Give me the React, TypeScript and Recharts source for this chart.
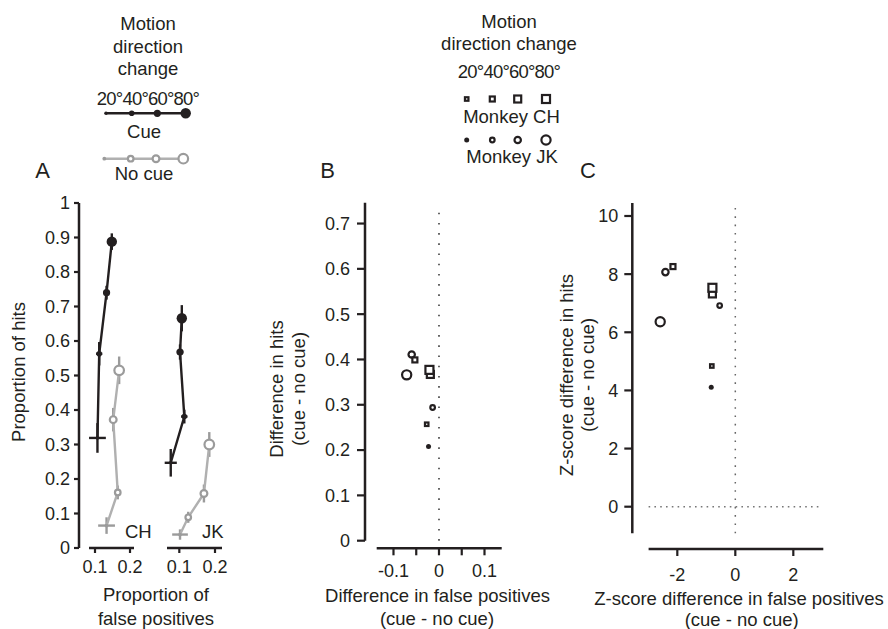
import { ErrorBar, ReferenceLine, Scatter, ScatterChart, XAxis, YAxis } from 'recharts';

const FONT = '"Liberation Sans", Arial, Helvetica, sans-serif';
const INK = '#231f20';
const GREY_LINE = '#b0b0b0';
const GREY_MARK = '#9b9b9b';
const AXIS_W = 2.5;

// motion direction change, degrees
const directions = [20, 40, 60, 80];
const directionText = '20°40°60°80°';

// A: proportion of false positives (x) and hits (y), with error bars
const chCueFalsePos = [0.107, 0.112, 0.133, 0.148];
const chCueHits = [0.319, 0.563, 0.74, 0.888];
const chCueFalsePosErr = [0.024, 0.009, 0.009, 0.01];
const chCueHitsErr = [0.043, 0.034, 0.02, 0.024];
const chNoCueFalsePos = [0.133, 0.165, 0.152, 0.169];
const chNoCueHits = [0.065, 0.161, 0.372, 0.515];
const chNoCueFalsePosErr = [0.024, 0.009, 0.009, 0.011];
const chNoCueHitsErr = [0.024, 0.02, 0.034, 0.04];

const jkCueFalsePos = [0.076, 0.114, 0.102, 0.107];
const jkCueHits = [0.247, 0.381, 0.568, 0.666];
const jkCueFalsePosErr = [0.017, 0.009, 0.009, 0.01];
const jkCueHitsErr = [0.04, 0.02, 0.022, 0.038];
const jkNoCueFalsePos = [0.102, 0.125, 0.169, 0.184];
const jkNoCueHits = [0.039, 0.089, 0.158, 0.3];
const jkNoCueFalsePosErr = [0.022, 0.009, 0.009, 0.011];
const jkNoCueHitsErr = [0.015, 0.016, 0.026, 0.036];

// B: difference (cue - no cue)
const chDiffFalsePos = [-0.027, -0.053, -0.019, -0.021];
const chDiffHits = [0.257, 0.399, 0.367, 0.377];
const jkDiffFalsePos = [-0.023, -0.014, -0.06, -0.071];
const jkDiffHits = [0.208, 0.294, 0.411, 0.366];

// C: z-score difference (cue - no cue)
const chZFalsePos = [-0.81, -2.15, -0.79, -0.79];
const chZHits = [4.84, 8.26, 7.32, 7.53];
const jkZFalsePos = [-0.83, -0.54, -2.41, -2.59];
const jkZHits = [4.11, 6.92, 8.07, 6.36];

// ticks
const aYTicks = [0, 0.1, 0.2, 0.3, 0.4, 0.5, 0.6, 0.7, 0.8, 0.9, 1];
const aXTicks = [0.1, 0.2];
const bYTicks = [0, 0.1, 0.2, 0.3, 0.4, 0.5, 0.6, 0.7];
const bXTicks = [-0.1, -0.05, 0, 0.05, 0.1];
const bXLabels = [-0.1, 0, 0.1];
const cYTicks = [0, 2, 4, 6, 8, 10];
const cXTicks = [-2, 0, 2];

type Pt = { deg: number; x: number; y: number; ex: number; ey: number };

const rows = (xs: number[], ys: number[], exs?: number[], eys?: number[]): Pt[] =>
  directions.map((deg, i) => ({ deg, x: xs[i], y: ys[i], ex: exs ? exs[i] : 0, ey: eys ? eys[i] : 0 }));

const chCue = rows(chCueFalsePos, chCueHits, chCueFalsePosErr, chCueHitsErr);
const chNoCue = rows(chNoCueFalsePos, chNoCueHits, chNoCueFalsePosErr, chNoCueHitsErr);
const jkCue = rows(jkCueFalsePos, jkCueHits, jkCueFalsePosErr, jkCueHitsErr);
const jkNoCue = rows(jkNoCueFalsePos, jkNoCueHits, jkNoCueFalsePosErr, jkNoCueHitsErr);
const chDiff = rows(chDiffFalsePos, chDiffHits);
const jkDiff = rows(jkDiffFalsePos, jkDiffHits);
const chZ = rows(chZFalsePos, chZHits);
const jkZ = rows(jkZFalsePos, jkZHits);

// layout
const W = 888;
const H = 629;
const XAXIS_H = 40;

type Frame = { left: number; right: number; top: number; bottom: number };
const margins = (f: Frame, yw: number) => ({
  top: f.top,
  right: W - f.right,
  bottom: H - f.bottom - XAXIS_H,
  left: f.left - yw,
});

const frameACh: Frame = { left: 79, right: 134, top: 203, bottom: 548 };
const frameAJk: Frame = { left: 167, right: 222, top: 203, bottom: 548 };
const frameB: Frame = { left: 365, right: 501.7, top: 202.7, bottom: 548.3 };
const frameC: Frame = { left: 632.3, right: 823.3, top: 203, bottom: 549 };

const aChX: [number, number] = [0.0543, 0.2114];
const aJkX: [number, number] = [0.0655, 0.2196];
const aY: [number, number] = [0, 1];
const bX: [number, number] = [-0.1626, 0.1378];
const bY: [number, number] = [-0.0168, 0.746];
const cX: [number, number] = [-3.552, 3.034];
const cY: [number, number] = [-1.455, 10.447];

// marker sizes by direction
const cueR: Record<number, number> = { 20: 1.8, 40: 2.8, 60: 3.6, 80: 5.2 };
const noCueR: Record<number, number> = { 20: 1.9, 40: 2.8, 60: 3.4, 80: 4.8 };
const squareSide: Record<number, number> = { 20: 3.5, 40: 5, 60: 7, 80: 8 };
const ringR: Record<number, number> = { 20: 2.5, 40: 2.3, 60: 3.2, 80: 4.6 };

const CueDot = (p: any) => <circle cx={p.cx} cy={p.cy} r={cueR[p.payload.deg]} fill={INK} />;
const NoCueDot = (p: any) =>
  p.payload.deg === 20 ? (
    <circle cx={p.cx} cy={p.cy} r={noCueR[20]} fill={GREY_MARK} />
  ) : (
    <circle cx={p.cx} cy={p.cy} r={noCueR[p.payload.deg]} fill="#fff" stroke={GREY_MARK} strokeWidth={2.2} />
  );
const ChSquare = (p: any) => {
  const s = squareSide[p.payload.deg];
  return <rect x={p.cx - s / 2} y={p.cy - s / 2} width={s} height={s} fill="#fff" stroke={INK} strokeWidth={2.2} />;
};
const JkRing = (p: any) =>
  p.payload.deg === 20 ? (
    <circle cx={p.cx} cy={p.cy} r={ringR[20]} fill={INK} />
  ) : (
    <circle cx={p.cx} cy={p.cy} r={ringR[p.payload.deg]} fill="#fff" stroke={INK} strokeWidth={2.2} />
  );

const tickStyle = { fill: INK, fontSize: 18, fontFamily: FONT };
const tickLine = { stroke: INK, strokeWidth: 2.2 };
const abs = { position: 'absolute' as const, left: 0, top: 0 };

function Errors({ color }: { color: string }) {
  return (
    <>
      <ErrorBar dataKey="ey" direction="y" width={0} stroke={color} strokeWidth={2.4} isAnimationActive={false} />
      <ErrorBar dataKey="ex" direction="x" width={0} stroke={color} strokeWidth={2.4} isAnimationActive={false} />
    </>
  );
}

function PanelA() {
  return (
    <>
      <div style={abs}>
        <ScatterChart width={W} height={H} margin={margins(frameACh, frameACh.left)}>
          <XAxis type="number" dataKey="x" domain={aChX} allowDataOverflow ticks={aXTicks} interval={0}
            axisLine={false} tickLine={tickLine} tick={tickStyle} tickSize={5} tickMargin={7} height={XAXIS_H} />
          <YAxis type="number" dataKey="y" domain={aY} allowDataOverflow ticks={aYTicks} interval={0}
            axisLine={false} tickLine={tickLine} tick={tickStyle} tickSize={5} tickMargin={4} width={frameACh.left} />
          <ReferenceLine segment={[{ x: aChX[0], y: 0 }, { x: aChX[0], y: 1 }]} stroke={INK} strokeWidth={AXIS_W} ifOverflow="visible" />
          <ReferenceLine segment={[{ x: 0.0829, y: 0 }, { x: aChX[1], y: 0 }]} stroke={INK} strokeWidth={AXIS_W} ifOverflow="visible" />
          <Scatter data={chNoCue} shape={NoCueDot} line={{ stroke: GREY_LINE, strokeWidth: 2.4 }} isAnimationActive={false}>
            <Errors color={GREY_MARK} />
          </Scatter>
          <Scatter data={chCue} shape={CueDot} line={{ stroke: INK, strokeWidth: 2.4 }} isAnimationActive={false}>
            <Errors color={INK} />
          </Scatter>
        </ScatterChart>
      </div>
      <div style={abs}>
        <ScatterChart width={W} height={H} margin={margins(frameAJk, 0)}>
          <XAxis type="number" dataKey="x" domain={aJkX} allowDataOverflow ticks={aXTicks} interval={0}
            axisLine={{ stroke: INK, strokeWidth: AXIS_W }} tickLine={tickLine} tick={tickStyle} tickSize={5} tickMargin={7} height={XAXIS_H} />
          <YAxis type="number" dataKey="y" domain={aY} allowDataOverflow hide />
          <Scatter data={jkNoCue} shape={NoCueDot} line={{ stroke: GREY_LINE, strokeWidth: 2.4 }} isAnimationActive={false}>
            <Errors color={GREY_MARK} />
          </Scatter>
          <Scatter data={jkCue} shape={CueDot} line={{ stroke: INK, strokeWidth: 2.4 }} isAnimationActive={false}>
            <Errors color={INK} />
          </Scatter>
        </ScatterChart>
      </div>
    </>
  );
}

function PanelB() {
  return (
    <div style={abs}>
      <ScatterChart width={W} height={H} margin={margins(frameB, frameB.left)}>
        <XAxis type="number" dataKey="x" domain={bX} allowDataOverflow ticks={bXTicks} interval={0}
          tickFormatter={(v: number) => (bXLabels.includes(v) ? String(v) : '')}
          axisLine={false} tickLine={tickLine} tick={tickStyle} tickSize={7} tickMargin={9} height={XAXIS_H} />
        <YAxis type="number" dataKey="y" domain={bY} allowDataOverflow ticks={bYTicks} interval={0}
          axisLine={false} tickLine={tickLine} tick={tickStyle} tickSize={8} tickMargin={7} width={frameB.left} />
        <ReferenceLine segment={[{ x: bX[0], y: 0 }, { x: bX[0], y: bY[1] }]} stroke={INK} strokeWidth={AXIS_W} ifOverflow="visible" />
        <ReferenceLine segment={[{ x: -0.1369, y: bY[0] }, { x: bX[1], y: bY[0] }]} stroke={INK} strokeWidth={AXIS_W} ifOverflow="visible" />
        <ReferenceLine segment={[{ x: 0, y: 0 }, { x: 0, y: 0.735 }]} stroke="#333" strokeWidth={1.5} strokeDasharray="1.6 8.6" ifOverflow="visible" />
        <Scatter data={jkDiff} shape={JkRing} isAnimationActive={false} />
        <Scatter data={chDiff} shape={ChSquare} isAnimationActive={false} />
      </ScatterChart>
    </div>
  );
}

function PanelC() {
  return (
    <div style={abs}>
      <ScatterChart width={W} height={H} margin={margins(frameC, frameC.left)}>
        <XAxis type="number" dataKey="x" domain={cX} allowDataOverflow ticks={cXTicks} interval={0}
          axisLine={false} tickLine={tickLine} tick={tickStyle} tickSize={7} tickMargin={12} height={XAXIS_H} />
        <YAxis type="number" dataKey="y" domain={cY} allowDataOverflow ticks={cYTicks} interval={0}
          axisLine={false} tickLine={tickLine} tick={tickStyle} tickSize={8} tickMargin={6} width={frameC.left} />
        <ReferenceLine segment={[{ x: cX[0], y: -0.915 }, { x: cX[0], y: cY[1] }]} stroke={INK} strokeWidth={AXIS_W} ifOverflow="visible" />
        <ReferenceLine segment={[{ x: -2.99, y: cY[0] }, { x: cX[1], y: cY[0] }]} stroke={INK} strokeWidth={AXIS_W} ifOverflow="visible" />
        <ReferenceLine segment={[{ x: 0, y: -0.915 }, { x: 0, y: cY[1] }]} stroke="#666" strokeWidth={1.5} strokeDasharray="1.6 6.7" ifOverflow="visible" />
        <ReferenceLine segment={[{ x: -2.99, y: 0 }, { x: 2.9, y: 0 }]} stroke="#777" strokeWidth={1.5} strokeDasharray="1.6 4.2" ifOverflow="visible" />
        <Scatter data={jkZ} shape={JkRing} isAnimationActive={false} />
        <Scatter data={chZ} shape={ChSquare} isAnimationActive={false} />
      </ScatterChart>
    </div>
  );
}

function T({ x, y, children, size = 18.5, anchor = 'middle', rotate = false, spacing }: any) {
  if (rotate) {
    return (
      <text transform={`translate(${x},${y}) rotate(-90)`} textAnchor={anchor} fontSize={size} fill={INK}>
        {children}
      </text>
    );
  }
  return (
    <text x={x} y={y} textAnchor={anchor} fontSize={size} fill={INK} letterSpacing={spacing}>
      {children}
    </text>
  );
}

const legendAX = [106, 131.7, 157.3, 185.7];
const legendANoCueX = [104.3, 130.7, 156, 183.3];
const legendBX = [466.7, 492.3, 517.7, 546];

function Annotations() {
  return (
    <svg width={W} height={H} style={{ ...abs, pointerEvents: 'none' }} fontFamily={FONT}>
      {/* legend A */}
      <T x={148} y={30}>Motion</T>
      <T x={148} y={53}>direction</T>
      <T x={148} y={75}>change</T>
      <T x={148} y={105} spacing={-0.8}>{directionText}</T>
      <line x1={legendAX[0]} y1={113.3} x2={legendAX[3]} y2={113.3} stroke={INK} strokeWidth={2.4} />
      {directions.map((d, i) => (
        <circle key={d} cx={legendAX[i]} cy={113.3} r={cueR[d]} fill={INK} />
      ))}
      <T x={144} y={138}>Cue</T>
      <line x1={legendANoCueX[0]} y1={158.7} x2={legendANoCueX[3]} y2={158.7} stroke={GREY_LINE} strokeWidth={2.4} />
      {directions.map((d, i) =>
        d === 20 ? (
          <circle key={d} cx={legendANoCueX[i]} cy={158.7} r={noCueR[d]} fill={GREY_MARK} />
        ) : (
          <circle key={d} cx={legendANoCueX[i]} cy={158.7} r={noCueR[d]} fill="#fff" stroke={GREY_MARK} strokeWidth={2.2} />
        ),
      )}
      <T x={144} y={180}>No cue</T>

      {/* legend B */}
      <T x={509} y={27.5}>Motion</T>
      <T x={509} y={50}>direction change</T>
      <T x={509} y={78.3} spacing={-0.8}>{directionText}</T>
      {directions.map((d, i) => {
        const s = squareSide[d];
        return <rect key={d} x={legendBX[i] - s / 2} y={99 - s / 2} width={s} height={s} fill="#fff" stroke={INK} strokeWidth={2.2} />;
      })}
      <T x={511.5} y={122.7}>Monkey CH</T>
      {directions.map((d, i) =>
        d === 20 ? (
          <circle key={d} cx={legendBX[i]} cy={140} r={ringR[d]} fill={INK} />
        ) : (
          <circle key={d} cx={legendBX[i]} cy={140} r={ringR[d]} fill="#fff" stroke={INK} strokeWidth={2.2} />
        ),
      )}
      <T x={512} y={163}>Monkey JK</T>

      {/* panel letters */}
      <T x={42.7} y={178.3} size={22}>A</T>
      <T x={327.5} y={178.3} size={22}>B</T>
      <T x={588} y={178.3} size={22}>C</T>

      {/* panel A titles */}
      <T x={125} y={538} anchor="start">CH</T>
      <T x={202} y={538} anchor="start">JK</T>
      <T x={25} y={372} rotate>Proportion of hits</T>
      <T x={156} y={601}>Proportion of</T>
      <T x={156} y={625}>false positives</T>

      {/* panel B titles */}
      <T x={283} y={389} rotate>Difference in hits</T>
      <T x={305} y={389} rotate>(cue - no cue)</T>
      <T x={437.5} y={601.5}>Difference in false positives</T>
      <T x={437} y={625}>(cue - no cue)</T>

      {/* panel C titles */}
      <T x={573} y={375} rotate>Z-score difference in hits</T>
      <T x={594} y={375} rotate>(cue - no cue)</T>
      <T x={739} y={605}>Z-score difference in false positives</T>
      <T x={741.7} y={626}>(cue - no cue)</T>
    </svg>
  );
}

export default function App() {
  return (
    <div style={{ ...abs, width: W, height: H, background: '#fff', fontFamily: FONT, overflow: 'hidden' }}>
      <PanelA />
      <PanelB />
      <PanelC />
      <Annotations />
    </div>
  );
}
